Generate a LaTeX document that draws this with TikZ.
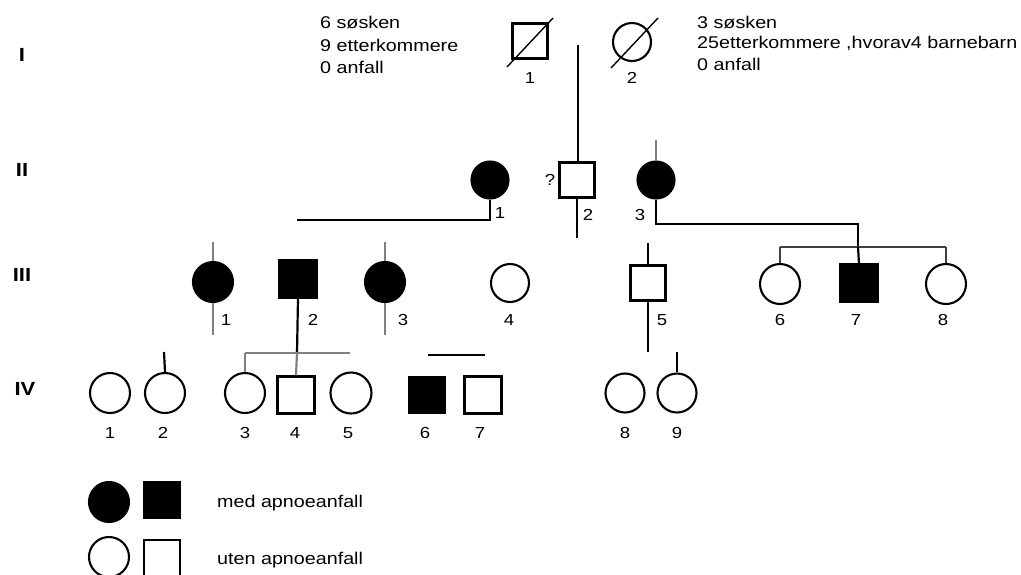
\documentclass[tikz,border=0pt]{standalone}
\usepackage{fontspec}
\setmainfont{Liberation Sans}
\newfontfamily\widefont[FakeStretch=1.16]{Liberation Sans}
\usetikzlibrary{calc}
\tikzset{
  fem/.style={circle, draw, line width=2.1pt, minimum size=39pt, inner sep=0pt},
  mal/.style={rectangle, draw, line width=2.1pt, minimum size=35pt, inner sep=0pt},
  aff/.style={fill=black},
  num/.style={font=\widefont\fontsize{16}{16}\selectfont, inner sep=0pt},
  txt/.style={font=\widefont\fontsize{17}{17}\selectfont, inner sep=0pt, anchor=west},
  gen/.style={font=\widefont\bfseries\fontsize{19}{19}\selectfont, inner sep=0pt},
  ln/.style={line width=2.2pt},
  gln/.style={line width=2.2pt, draw=black!50},
}
\begin{document}
\begin{tikzpicture}[x=1pt,y=-1pt]
\useasboundingbox (0,0) rectangle (1021,574);
% generation labels
\node[gen] (gI) at (22,55) {I};
\node[gen] (gII) at (22,170) {II};
\node[gen] (gIII) at (22,275) {III};
\node[gen] (gIV) at (25,389) {IV};
% generation I
\node[mal] (i1) at (530,41) {};
\node[fem, minimum size=38pt] (i2) at (632,42) {};
\draw[line width=1.4pt] ($(i1.center)+(-23,26)$) -- ($(i1.center)+(23,-23)$);
\draw[line width=1.4pt] ($(i2.center)+(-21,26)$) -- ($(i2.center)+(26,-24)$);
\node[num] (li1) at (530,78) {1};
\node[num] (li2) at (632,78) {2};
\node[txt] (t1a) at (320,22) {6 søsken};
\node[txt] (t1b) at (320,45) {9 etterkommere};
\node[txt] (t1c) at (320,67) {0 anfall};
\node[txt] (t2a) at (697,22) {3 søsken};
\node[txt] (t2b) at (697,43) {25etterkommere ,hvorav4 barnebarn};
\node[txt] (t2c) at (697,64) {0 anfall};
% generation II
\node[fem, aff, minimum size=37pt] (ii1) at (490,180) {};
\node[mal] (ii2) at (577,180) {};
\node[fem, aff, minimum size=37pt] (ii3) at (656,180) {};
\coordinate (topI) at (578,45);
\draw[ln] (topI) -- (topI |- ii2.north);
\node[num] (q) at (550,180) {?};
\node[num] (lii1) at (500,213) {1};
\node[num] (lii2) at (588,215) {2};
\node[num] (lii3) at (640,215) {3};
\coordinate (c1) at (297,220);
\draw[ln] (ii1.south) |- (c1);
\coordinate (c2) at (577,238);
\draw[ln] (ii2.south) -- (c2);
\coordinate (c3) at (656,140);
\draw[gln] (c3) -- (ii3.north);
\coordinate (c4) at (858,224);
\coordinate (c5) at (858,247);
\draw[ln] (ii3.south) |- (c4) -- (c5);
% generation III
\node[fem, aff, minimum size=40pt] (iii1) at (213,282) {};
\node[mal, aff, minimum size=37pt] (iii2) at (298,279) {};
\node[fem, aff, minimum size=40pt] (iii3) at (385,282) {};
\node[fem, minimum size=38pt] (iii4) at (510,283) {};
\node[mal] (iii5) at (648,283) {};
\node[fem, minimum size=40pt] (iii6) at (780,284) {};
\node[mal, aff, minimum size=37pt] (iii7) at (859,283) {};
\node[fem, minimum size=40pt] (iii8) at (946,284) {};
\node[num] (liii1) at (226,320) {1};
\node[num] (liii2) at (313,320) {2};
\node[num] (liii3) at (403,320) {3};
\node[num] (liii4) at (509,320) {4};
\node[num] (liii5) at (662,320) {5};
\node[num] (liii6) at (780,320) {6};
\node[num] (liii7) at (856,320) {7};
\node[num] (liii8) at (943,320) {8};
\coordinate (s1) at (780,247);
\coordinate (s2) at (946,247);
\draw[ln, draw=black!75] (s1) -- (s2);
\draw[ln, draw=black!75] (s1) -- (iii6.north);
\draw[ln, draw=black!75] (s2) -- (iii8.north);
\draw[ln] (c5) -- (iii7.north);
\coordinate (u1) at (213,242);
\coordinate (d1) at (213,335);
\draw[gln] (u1) -- (iii1.north);
\draw[gln] (iii1.south) -- (d1);
\coordinate (u3) at (385,242);
\coordinate (d3) at (385,335);
\draw[gln] (u3) -- (iii3.north);
\draw[gln] (iii3.south) -- (d3);
\coordinate (u5) at (648,243);
\coordinate (d5) at (648,352);
\draw[ln] (u5) -- (iii5.north);
\draw[ln] (iii5.south) -- (d5);
% generation IV
\node[fem, minimum size=40pt] (iv1) at (110,393) {};
\node[fem, minimum size=40pt] (iv2) at (165,393) {};
\node[fem, minimum size=40pt] (iv3) at (245,393) {};
\node[mal, minimum size=37pt] (iv4) at (296,395) {};
\node[fem, minimum size=41pt] (iv5) at (351,393) {};
\node[mal, aff, minimum size=36pt] (iv6) at (427,395) {};
\node[mal, minimum size=37pt] (iv7) at (483,395) {};
\node[fem, minimum size=39pt] (iv8) at (625,393) {};
\node[fem, minimum size=39pt] (iv9) at (677,393) {};
\node[num] (liv1) at (110,433) {1};
\node[num] (liv2) at (163,433) {2};
\node[num] (liv3) at (245,433) {3};
\node[num] (liv4) at (295,433) {4};
\node[num] (liv5) at (348,433) {5};
\node[num] (liv6) at (425,433) {6};
\node[num] (liv7) at (480,433) {7};
\node[num] (liv8) at (625,433) {8};
\node[num] (liv9) at (677,433) {9};
\coordinate (e1) at (245,353);
\coordinate (e2) at (350,353);
\coordinate (e3) at (297,353);
\draw[ln] (iii2.south) -- (e3);
\draw[gln] (e1) -- (e2);
\draw[gln] (e1) -- (iv3.north);
\draw[gln] (e3) -- (iv4.north);
\coordinate (f1) at (164,352);
\draw[ln] (f1) -- (iv2.north);
\coordinate (g1) at (428,355);
\coordinate (g2) at (485,355);
\draw[ln] (g1) -- (g2);
\coordinate (h1) at (677,352);
\draw[ln] (h1) -- (iv9.north);
% legend
\node[fem, aff, minimum size=40pt] (la) at (109,502) {};
\node[mal, aff, minimum size=36pt] (lb) at (162,500) {};
\node[fem, minimum size=40pt] (lc) at (109,557) {};
\node[mal, minimum size=36pt] (ld) at (162,558) {};
\node[txt] (lta) at (217,503) {med apnoeanfall};
\node[txt] (ltb) at (217,560) {uten apnoeanfall};
\end{tikzpicture}
\end{document}
